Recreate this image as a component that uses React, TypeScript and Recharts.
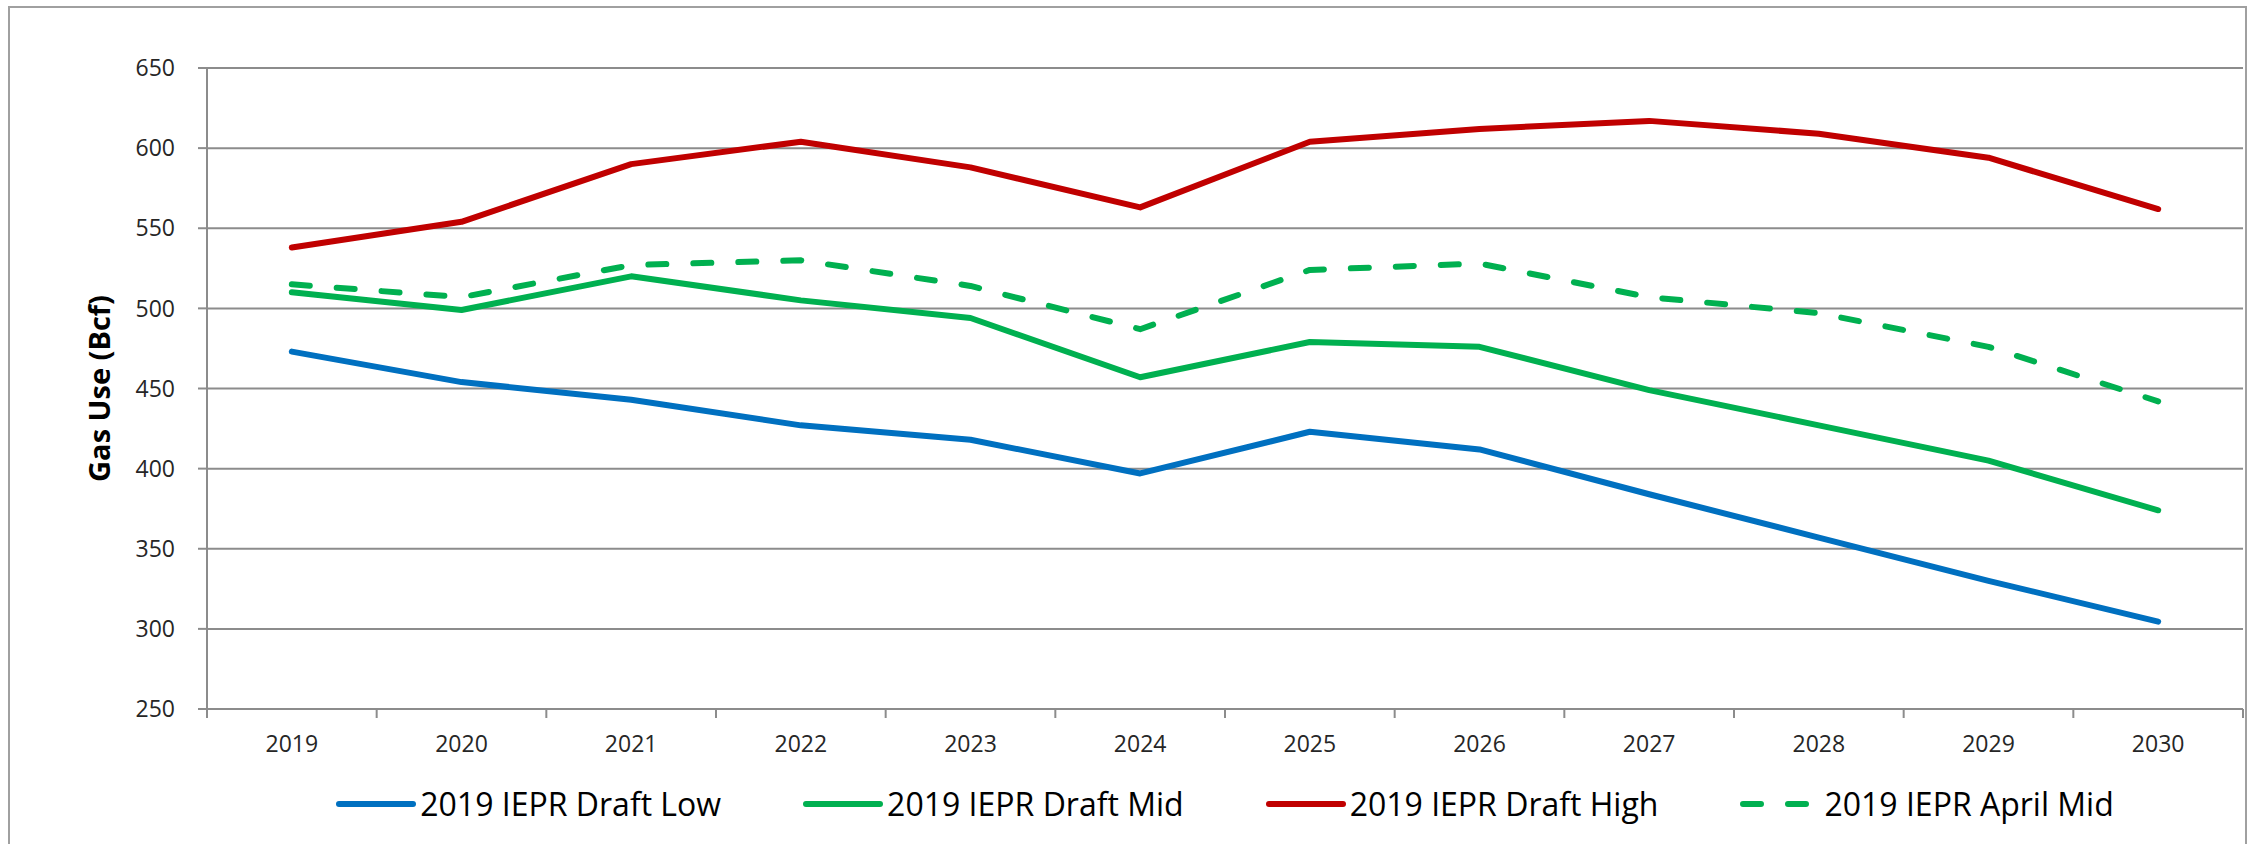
import React from 'react';
import { LineChart, Line, XAxis, YAxis, CartesianGrid } from 'recharts';

document.body.style.margin = '0';

const years = ['2019', '2020', '2021', '2022', '2023', '2024', '2025', '2026', '2027', '2028', '2029', '2030'];
const draftLow = [473, 454, 443, 427, 418, 397, 423, 412, 384, 357, 330, 304.5];
const draftMid = [510, 499, 520, 505, 494, 457, 479, 476, 449, 427, 405, 374];
const draftHigh = [538, 554, 590, 604, 588, 563, 604, 612, 617, 609, 594, 562];
const aprilMid = [515, 507, 527, 530, 514, 487, 524, 528, 507, 497, 476, 442];
const yTicks = [250, 300, 350, 400, 450, 500, 550, 600, 650];

const series = [
  { key: 'low', name: '2019 IEPR Draft Low', color: '#0070C0', dash: undefined },
  { key: 'mid', name: '2019 IEPR Draft Mid', color: '#00B050', dash: undefined },
  { key: 'high', name: '2019 IEPR Draft High', color: '#C00000', dash: undefined },
  { key: 'april', name: '2019 IEPR April Mid', color: '#00B050', dash: '18 27' },
];

const data = years.map((year, i) => ({
  year,
  low: draftLow[i],
  mid: draftMid[i],
  high: draftHigh[i],
  april: aprilMid[i],
}));

const W = 2259;
const H = 844;
const Y_W = 207;
const RIGHT = 16;
const TOP = 68;
const PLOT_W = W - Y_W - RIGHT;
const HALF = PLOT_W / years.length / 2;
const GRID = '#8c8c8c';
const FONT = '"Open Sans", sans-serif';
const TEXT = '#262626';

function XTick(props: any) {
  const { x, y, payload, index } = props;
  const last = index === years.length - 1;
  return (
    <g>
      <line x1={x - HALF} x2={x - HALF} y1={y} y2={y + 9} stroke={GRID} strokeWidth={2} />
      {last && <line x1={x + HALF} x2={x + HALF} y1={y} y2={y + 9} stroke={GRID} strokeWidth={2} />}
      <text x={x} y={y + 43} textAnchor="middle" fontSize={23} fontFamily={FONT} fill={TEXT}>
        {payload.value}
      </text>
    </g>
  );
}

function LegendRow() {
  return (
    <div
      style={{
        position: 'absolute',
        left: Y_W,
        width: PLOT_W,
        top: 782,
        display: 'flex',
        justifyContent: 'center',
        gap: 82,
        fontFamily: FONT,
        fontSize: 32,
        color: '#000',
        lineHeight: '44px',
      }}
    >
      {series.map((s) => (
        <div key={s.key} style={{ display: 'flex', alignItems: 'center' }}>
          <svg width={80} height={12}>
            <line
              x1={3}
              x2={77}
              y1={6}
              y2={6}
              stroke={s.color}
              strokeWidth={6}
              strokeLinecap="round"
              strokeDasharray={s.dash}
            />
          </svg>
          <span style={{ marginLeft: 4 }}>{s.name}</span>
        </div>
      ))}
    </div>
  );
}

export default function App() {
  return (
    <div style={{ position: 'relative', width: W, height: H, overflow: 'hidden', background: '#fff' }}>
      <div
        style={{
          position: 'absolute',
          left: 8,
          top: 6,
          width: 2239,
          height: 900,
          border: '2px solid #a0a0a0',
          boxSizing: 'border-box',
        }}
      />
      <div style={{ position: 'absolute', left: 0, top: 0 }}>
        <LineChart width={W} height={H} data={data} margin={{ top: TOP, right: RIGHT, bottom: 75, left: 0 }}>
          <CartesianGrid vertical={false} stroke={GRID} strokeWidth={2} />
          <XAxis
            dataKey="year"
            height={60}
            padding={{ left: HALF, right: HALF }}
            axisLine={{ stroke: GRID, strokeWidth: 2 }}
            tickLine={false}
            tickSize={0}
            tickMargin={0}
            interval={0}
            tick={<XTick />}
          />
          <YAxis
            width={Y_W}
            domain={[250, 650]}
            ticks={yTicks}
            interval={0}
            axisLine={{ stroke: GRID, strokeWidth: 2 }}
            tickLine={{ stroke: GRID, strokeWidth: 2 }}
            tickSize={9}
            tickMargin={23}
            tick={{ fontSize: 23, fontFamily: FONT, fill: TEXT }}
            label={{
              value: 'Gas Use (Bcf)',
              angle: -90,
              position: 'insideLeft',
              offset: 100,
              style: { fontSize: 29, fontWeight: 700, fontFamily: FONT, fill: '#000', textAnchor: 'middle' },
            }}
          />
          {series.map((s) => (
            <Line
              key={s.key}
              dataKey={s.key}
              name={s.name}
              stroke={s.color}
              strokeWidth={6}
              strokeDasharray={s.dash}
              strokeLinecap="round"
              strokeLinejoin="round"
              dot={false}
              activeDot={false}
              isAnimationActive={false}
            />
          ))}
        </LineChart>
      </div>
      <LegendRow />
    </div>
  );
}
